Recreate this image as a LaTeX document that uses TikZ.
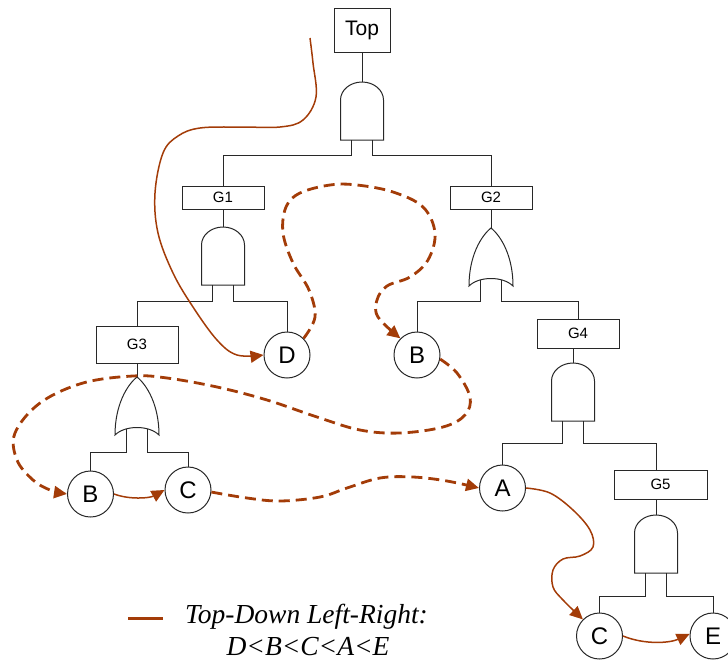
\documentclass[tikz,border=0pt]{standalone}
\usepackage{fontspec}
\setmainfont{Liberation Sans}
\newfontfamily\legendfont{Liberation Serif}
\usetikzlibrary{arrows.meta}

\definecolor{trace}{RGB}{163,60,8}
\definecolor{ink}{RGB}{40,40,40}

\tikzset{
  gatebox/.style={draw=ink, line width=1pt, inner sep=0pt,
    font=\fontsize{15}{18}\selectfont},
  event/.style={draw=ink, line width=1pt, circle, minimum size=46pt,
    inner sep=0pt, font=\fontsize{24}{27}\selectfont},
  wire/.style={draw=ink, line width=1pt},
  walk/.style={draw=trace, line width=1.5pt,
    -{Triangle[length=13pt,width=12pt]}},
  jump/.style={draw=trace, line width=2.8pt, dash pattern=on 11pt off 6pt,
    -{Triangle[length=13pt,width=12pt]}},
  legendtext/.style={font=\legendfont\itshape\fontsize{27.5}{32}\selectfont,
    anchor=base, inner sep=0pt},
  % AND gate: flat bottom, rounded top; origin at the output (top)
  pics/andgate/.style={code={
    \draw[wire] (-21.5,58) -- (-21.5,18)
      .. controls (-21.5,8.06) and (-11.87,0) .. (0,0)
      .. controls (11.87,0) and (21.5,8.06) .. (21.5,18)
      -- (21.5,58) -- cycle;
    \coordinate (-out) at (0,0);
    \coordinate (-l) at (-10.5,58);
    \coordinate (-r) at (10.5,58);
  }},
  % OR gate: pointed top, concave bottom; origin at the output (top)
  pics/orgate/.style={code={
    \draw[wire] (0,0) .. controls (-10,8) and (-22,28) .. (-22,58)
      .. controls (-12,48) and (12,48) .. (22,58)
      .. controls (22,28) and (10,8) .. (0,0) -- cycle;
    \coordinate (-out) at (0,0);
    \coordinate (-l) at (-10.5,52);
    \coordinate (-r) at (10.5,52);
  }},
}

\begin{document}
\begin{tikzpicture}[x=1pt, y=-1pt]
\useasboundingbox (0,0) rectangle (728,662);
\clip (0,0) rectangle (728,662);

% ---- fault tree ----
\node[gatebox, minimum width=56pt, minimum height=44pt,
      font=\fontsize{21}{25}\selectfont] (top) at (362,30) {Top};
\pic (a0) at (362,82) {andgate};
\draw[wire] (top.south) -- (a0-out);

\node[gatebox, minimum width=82pt, minimum height=23pt] (g1) at (223,197.5) {G1};
\node[gatebox, minimum width=82pt, minimum height=23pt] (g2) at (491,197.5) {G2};
\draw[wire] (a0-l) -- ++(0,15) -| (g1.north);
\draw[wire] (a0-r) -- ++(0,15) -| (g2.north);

% G1 branch
\pic (a1) at (223,227) {andgate};
\draw[wire] (g1.south) -- (a1-out);
\node[gatebox, minimum width=82pt, minimum height=37pt] (g3) at (137,344.5) {G3};
\node[event] (d) at (287,355) {D};
\draw[wire] (a1-l) -- ++(0,16) -| (g3.north);
\draw[wire] (a1-r) -- ++(0,16) -| (d.north);

\pic (o3) at (137,377) {orgate};
\draw[wire] (g3.south) -- (o3-out);
\node[event] (b) at (90.5,494) {B};
\node[event] (c) at (188,490) {C};
\draw[wire] (o3-l) -- ++(0,23) -| (b.north);
\draw[wire] (o3-r) -- ++(0,23) -| (c.north);

% G2 branch
\pic (o2) at (491,228) {orgate};
\draw[wire] (g2.south) -- (o2-out);
\node[event] (b2) at (417,355) {B};
\node[gatebox, minimum width=82pt, minimum height=29pt] (g4) at (578,333.5) {G4};
\draw[wire] (o2-l) -- ++(0,21) -| (b2.north);
\draw[wire] (o2-r) -- ++(0,21) -| (g4.north);

\pic (a4) at (573,363) {andgate};
\draw[wire] (a4-out |- g4.south) -- (a4-out);
\node[event] (a) at (502.5,488) {A};
\node[gatebox, minimum width=93pt, minimum height=29pt] (g5) at (660.5,484.5) {G5};
\pic (a5) at (656,515) {andgate};
\draw[wire] (a4-l) -- ++(0,22) -| (a.north);
\draw[wire] (a4-r) -- ++(0,22) -| (a5-out |- g5.north);
\draw[wire] (a5-out |- g5.south) -- (a5-out);

\node[event] (c2) at (599.5,636) {C};
\node[event] (e) at (713,636) {E};
\draw[wire] (a5-l) -- ++(0,23) -| (c2.north);
\draw[wire] (a5-r) -- ++(0,23) -| (e.north);

% ---- traversal order ----
\coordinate (start) at (310,38);
\draw[walk] plot[smooth, tension=0.6] coordinates {
  (start) (313,63) (316,97) (303,120) (280,127) (240,127) (200,128)
  (178,136) (163,153) (155,193) (158,233) (173,273) (193,307)
  (217,340) (237,355) (d.west)};

\draw[jump] plot[smooth, tension=0.6] coordinates {
  (d.45) (315,317) (309,290) (293,263) (283,233) (286,207) (300,193)
  (330,185) (357,185) (393,192) (423,207) (435,233) (428,260)
  (410,277) (387,286) (377,300) (378,317) (b2.135)};

\draw[jump] plot[smooth, tension=0.6] coordinates {
  (b2.-10) (457,373) (470,397) (465,415) (443,427) (400,433) (360,430)
  (317,417) (267,400) (217,387) (167,378) (133,376) (83,383)
  (40,403) (15,433) (17,460) (33,480) (50,490) (b.west)};

\draw[walk] (b.east) .. controls (130,500) and (150,498) .. (c.west);

\draw[jump] plot[smooth, tension=0.6] coordinates {
  (c.-5) (247,498) (280,501) (320,497) (347,488) (380,478) (413,477)
  (447,481) (a.west)};

\draw[walk] plot[smooth, tension=0.6] coordinates {
  (a.east) (550,493) (573,510) (590,530) (593,547) (580,556) (563,559)
  (553,570) (553,587) (563,600) (c2.135)};

\draw[walk] (c2.east) .. controls (645,645) and (670,643) .. (e.175);

% ---- legend ----
\coordinate (keyL) at (128,618);
\coordinate (keyR) at (163,618);
\draw[trace, line width=3pt] (keyL) -- (keyR);
\node[legendtext] (legend1) at (306.5,623) {Top-Down Left-Right:};
\node[legendtext] (legend2) at (308,655) {D<B<C<A<E};
\end{tikzpicture}
\end{document}
